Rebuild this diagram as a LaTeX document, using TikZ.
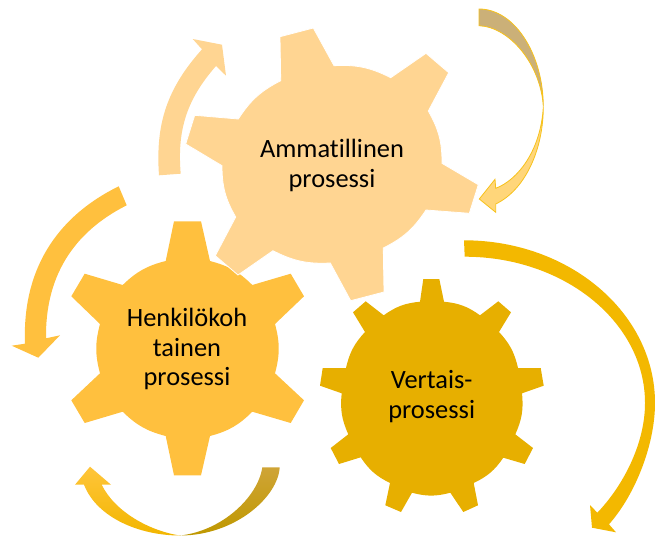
\documentclass[tikz,border=0pt]{standalone}
\usepackage{fontspec}
\setmainfont[RawFeature={-liga}]{Carlito}
\usepackage{xcolor}
\definecolor{peach}{HTML}{FFD592}
\definecolor{amber}{HTML}{FFC03E}
\definecolor{darkamber}{HTML}{E7AF00}
\definecolor{bigarrow}{HTML}{F3B800}
\definecolor{rim}{HTML}{F7C21C}
\definecolor{tan}{HTML}{CBB078}
\definecolor{paleband}{HTML}{FFD67A}
\definecolor{goldtop}{HTML}{FFC53A}
\definecolor{goldlow}{HTML}{F2B600}
\definecolor{olivetop}{HTML}{CFA436}
\definecolor{olivelow}{HTML}{BF9800}
\tikzset{
	cogtext/.style={text=black, align=center, font=\fontsize{26.4}{29.6}\selectfont},
	bump/.style={bend left=15},
	rimmed/.style={draw=rim, line width=0.8pt, line join=miter}
}
\begin{document}
\begin{tikzpicture}[x=1pt, y=-1pt]
	\useasboundingbox (0,0) rectangle (655,536);
	% henkilokohtainen cog
	\fill[amber] (174,221.3) -- (201,221.3) -- (210,261) to[bump] (252.3,285) -- (290.7,273.7) -- (304,296.3) -- (275,324)
		to[bump] (275,373.3) -- (304,400.3) -- (290.7,423) -- (252.3,411.7) to[bump] (210,436) -- (201,475.3) -- (174,475.3) -- (165.7,436)
		to[bump] (122.7,411.7) -- (84.7,423) -- (71.3,400.3) -- (100,373.3) to[bump] (100,324) -- (71.3,296.3) -- (84.7,273.7) -- (122.7,285)
		to[bump] (165.7,261) -- cycle;
	% ammatillinen cog
	\draw[white, line width=0.8pt, fill=peach] (280,36.7) -- (313.3,28) -- (334,65.7) to[bump] (390.7,77.7) -- (426,53.3) -- (448.7,72.7) -- (428.3,111)
		to[bump] (442,163.3) -- (478.3,184.7) -- (469.3,213.3) -- (426,210) to[bump] (383.3,248) -- (384,292) -- (350.7,300.7) -- (330.3,263)
		to[bump] (273,250.7) -- (238,275) -- (215.3,255.7) -- (235.7,217) to[bump] (222,165.7) -- (185.7,144) -- (194.7,115.3) -- (238.3,119)
		to[bump] (280.7,80.7) -- cycle;
	% vertais cog
	\fill[darkamber] (423.3,279) -- (439.3,279) -- (444,301.7) to[bump] (480,315.3) -- (498.3,301.3) -- (511,312.3) -- (499,332)
		to[bump] (518,368) -- (540.7,368) -- (543.7,385.7) -- (522,393.3) to[bump] (515.3,434.3) -- (533,448) -- (524.7,464) -- (503.3,457.7)
		to[bump] (473.7,483) -- (478,505.3) -- (463.3,512) -- (450.3,492.7) to[bump] (412,492.7) -- (401,512) -- (385.3,505.3) -- (390,483)
		to[bump] (360.7,457.3) -- (339,464) -- (330.7,448) -- (348.3,434.3) to[bump] (341.7,393.3) -- (320,385.7) -- (322.7,368) -- (346,368)
		to[bump] (365,332) -- (353,312.3) -- (365.7,301.3) -- (383.7,315.3) to[bump] (420,301.7) -- cycle;
	% labels
	\node[cogtext] (ammatillinen) at (332,165.5) {Ammatillinen\\prosessi};
	\node[cogtext] (henkilo) at (187,349) {Henkilökoh\\tainen\\prosessi};
	\node[cogtext] (vertais) at (431.7,396.5) {Vertais-\\prosessi};
	% arrow, upper left
	\fill[peach] (159,175.3) to[bend left=23] (202,49.3) -- (192.7,39) -- (222,44.7) -- (226,75.7) -- (216,66) to[bend right=23] (180.7,173.7) -- cycle;
	% arrow, left
	\fill[amber] (118.7,186.3) to[bend right=33] (25,343.7) -- (11.7,345.7) -- (38.3,357.7) -- (60,335.3) -- (46,338.3) to[bend left=32] (126.7,205.3) -- cycle;
	% arrow, big one on the right
	\fill[bigarrow] (464,240.3) .. controls (569.5,240.3) and (655,313) .. (655,403) .. controls (655,445) and (635,495) .. (609,524.3)
		-- (616,532.3) -- (592,527.7) -- (590,505) -- (597.3,512.7) .. controls (622,487) and (645,445) .. (645,403)
		.. controls (645,322) and (564,256.7) .. (464.7,256.7) -- cycle;
	% arrow, upper right
	\draw[rimmed, fill=tan] (479,9) .. controls (515,9) and (543.3,55) .. (543.3,106.7) .. controls (541,65) and (510,27) .. (479,25.7) -- cycle;
	\draw[rimmed, fill=paleband] (543.3,106.7) .. controls (543.3,150) and (525,190) .. (495.7,204) -- (495.7,212.3) -- (479.3,199) -- (495,179.3) -- (495.7,188.3)
		.. controls (518,180) and (541,150) .. (543.3,106.7) -- cycle;
	% arrow, bottom
	\shade[top color=goldtop, bottom color=goldlow] (180,535.5) .. controls (140,535.5) and (97,518) .. (84,484.7) -- (75,484.7) -- (90,466.7) -- (111,484.7) -- (101.7,484.7)
		.. controls (115,512) and (150,531) .. (180,535.5) -- cycle;
	\shade[top color=olivetop, bottom color=olivelow] (279.7,467.3) .. controls (278,497) and (235,535.5) .. (180,535.5) .. controls (222,531) and (258,497) .. (262.3,467.3) -- cycle;
\end{tikzpicture}
\end{document}
